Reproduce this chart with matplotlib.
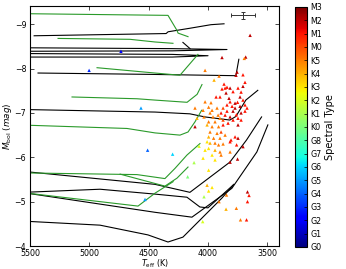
import numpy as np
import matplotlib
matplotlib.use('Agg')
import matplotlib.pyplot as plt

# spectral type labels (colour scale index 0..18)
sp_labels = ['G0', 'G1', 'G2', 'G3', 'G4', 'G5', 'G6', 'G7', 'G8',
             'K0', 'K1', 'K2', 'K3', 'K4', 'K5', 'M0', 'M1', 'M2', 'M3']

# evolutionary tracks (black)
tracks_T = [
    [5466, 4352, 4335, 4150, 3973, 3863],
    [5600, 4300, 3838, 4300, 5600],
    [4210, 4150],
    [5600, 4300, 3998, 4300, 5600],
    [5433, 4500, 3763, 3738],
    [5600, 4446, 4151, 4024, 3814, 3763, 3679, 3578],
    [5550, 4446, 4151, 3814, 3673, 3546],
    [5550, 4910, 4446, 4176, 4067, 3999, 3788],
    [5550, 4446, 4134, 3797, 3586, 3493],
    [5550, 4910, 4505, 4336, 4210, 3881, 3780],
]
tracks_M = [
    [-8.74, -8.79, -8.83, -8.91, -8.99, -9.01],
    [-8.47, -8.45, -8.43, -8.40, -8.39],
    [-8.59, -8.45],
    [-8.34, -8.32, -8.29, -8.26, -8.26],
    [-7.90, -7.87, -7.84, -8.21],
    [-7.08, -7.02, -6.98, -6.91, -6.84, -6.92, -7.29, -7.51],
    [-5.68, -5.39, -5.21, -5.89, -6.39, -6.91],
    [-5.21, -5.28, -5.17, -5.10, -4.88, -4.86, -5.37],
    [-5.20, -4.76, -4.65, -5.30, -6.12, -6.73],
    [-4.56, -4.47, -4.25, -4.09, -4.20, -5.08, -5.39],
]

# isochrones (green)
iso_T = [
    [5600, 4336, 4260, 4251, 4167],
    [5264, 4657, 4446, 4294],
    [4935, 4446, 4235, 4083],
    [5146, 4598, 4446, 4175, 4090, 4049],
    [5600, 4682, 4446, 4235, 4167, 4108, 4052],
    [5600, 4598, 4362, 4277, 4176, 4066],
    [4740, 4362, 4260, 4167],
    [5550, 4589, 4446, 4293],
]
iso_M = [
    [-9.24, -9.20, -8.86, -8.80, -8.72],
    [-8.68, -8.66, -8.60, -8.57],
    [-8.02, -7.90, -7.85, -8.32],
    [-7.36, -7.32, -7.29, -7.24, -7.42, -7.64],
    [-6.73, -6.65, -6.55, -6.50, -6.57, -6.80, -7.06],
    [-5.65, -5.61, -5.52, -5.75, -6.05, -6.31],
    [-5.62, -5.35, -5.53, -5.78],
    [-5.20, -4.90, -5.19, -5.45],
]

# stars: Teff, Mbol, spectral type index
star_T = [4733, 5002, 4564, 4508, 4297, 4530,
          3643, 3880, 3680, 3692, 4023, 3753, 3905, 3947, 3762, 3703, 3686, 3703,
          3863, 3880, 3838, 3812, 3745, 3719, 3787, 3846, 3897, 3821, 3728, 3703,
          4023, 3973, 3812, 3770, 3838, 3871, 3795, 3728, 3669, 3922, 3964, 4108,
          4091, 4032, 3981, 3888, 3838, 3787, 3759, 3719, 3686, 3812, 3787, 3745,
          3897, 3939, 3993, 4006, 3964, 3909, 3871, 3829, 3745, 4108, 3981, 3922,
          3888, 3854, 3770, 3745, 3804, 3993, 3951, 3897, 4006, 3981, 3939, 3909,
          3871, 3812, 3757, 3703, 3993, 3939, 3897, 3812, 4023, 3964, 3888, 3939,
          4040, 3993, 4074, 4116, 4170, 4006, 3964, 3993, 4032, 3905, 3842, 3665,
          3652, 3665, 3846, 3759, 3724, 3673, 4043, 3812, 3749,
          3770, 3749, 3686, 3719, 3854, 3871, 3913, 3956, 4040, 3993, 3854, 3930]
star_M = [-8.39, -7.96, -7.11, -6.16, -6.07, -5.05,
          -8.75, -8.25, -8.26, -8.23, -7.96, -7.92, -7.83, -7.74, -7.85, -7.86, -7.69, -7.60,
          -7.65, -7.54, -7.58, -7.56, -7.56, -7.47, -7.48, -7.45, -7.36, -7.33, -7.36, -7.29,
          -7.25, -7.23, -7.25, -7.22, -7.18, -7.11, -7.15, -7.15, -7.11, -7.11, -7.06, -7.11,
          -6.88, -6.91, -7.00, -7.00, -7.04, -7.04, -6.96, -7.00, -7.04, -6.91, -6.84, -6.88,
          -6.88, -6.80, -6.80, -6.73, -6.69, -6.69, -6.73, -6.77, -6.73, -6.69, -6.57, -6.54,
          -6.57, -6.50, -6.46, -6.43, -6.39, -6.46, -6.43, -6.43, -6.35, -6.32, -6.32, -6.28,
          -6.30, -6.35, -6.28, -6.24, -6.20, -6.16, -6.12, -6.12, -6.16, -6.05, -6.05, -5.94,
          -5.98, -5.71, -6.25, -5.88, -5.56, -5.37, -5.32, -5.24, -5.11, -5.00, -5.15, -5.22,
          -5.14, -5.00, -4.83, -4.85, -4.59, -4.59, -4.55, -5.89, -5.96,
          -7.11, -7.24, -7.18, -6.84, -6.95, -6.84, -6.95, -6.91, -7.06, -7.13, -7.56, -7.36]
star_sp = [2, 3, 5, 4, 6, 5,
           17, 17, 17, 14, 14, 17, 14, 13, 17, 16, 16, 17,
           16, 16, 16, 17, 16, 16, 16, 17, 16, 17, 17, 16,
           14, 14, 16, 17, 16, 15, 16, 17, 16, 14, 14, 14,
           13, 14, 14, 16, 16, 17, 16, 17, 16, 17, 16, 16,
           14, 14, 14, 13, 14, 14, 16, 16, 17, 17, 14, 14,
           15, 14, 16, 17, 16, 13, 14, 14, 12, 13, 14, 14,
           14, 16, 16, 17, 12, 13, 14, 14, 12, 12, 14, 12,
           12, 12, 11, 10, 9, 13, 12, 12, 10, 14, 14, 17,
           16, 16, 13, 14, 14, 16, 11, 17, 17,
           17, 16, 16, 16, 16, 15, 14, 14, 14, 14, 16, 16]

fig = plt.figure(figsize=(3.46, 2.69), dpi=100)
ax = fig.add_axes([0.087, 0.0855, 0.719, 0.892])
cax = fig.add_axes([0.853, 0.082, 0.035, 0.892])

for t, m in zip(tracks_T, tracks_M):
    ax.plot(t, m, color='k', lw=0.8)
for t, m in zip(iso_T, iso_M):
    ax.plot(t, m, color='#2a9a2a', lw=0.8)

sc = ax.scatter(star_T, star_M, c=star_sp, cmap='jet', vmin=0, vmax=18,
                marker='^', s=6, linewidths=0, zorder=3)

# typical error bar
ax.errorbar([3700], [-9.2], xerr=[100], yerr=[0.08], color='#333333',
            lw=0.7, capsize=1.5, capthick=0.7)

ax.set_xlim(5500, 3400)
ax.set_ylim(-4, -9.41)
ax.set_xticks([5500, 5000, 4500, 4000, 3500])
ax.set_yticks([-9, -8, -7, -6, -5, -4])
ax.tick_params(direction='in', top=True, right=True, length=3, width=0.5,
               labelsize=5.7)
ax.tick_params(axis='x', pad=1.8)
ax.tick_params(axis='y', pad=2.8)
for s in ax.spines.values():
    s.set_linewidth(0.8)
ax.set_xlabel(r'$T_{\rm eff}$ (K)', fontsize=5.8, labelpad=0)
ax.set_ylabel(r'$M_{\rm bol}\ (mag)$', fontsize=6.3, labelpad=0.5)

cb = fig.colorbar(sc, cax=cax, ticks=np.arange(len(sp_labels)))
cb.ax.set_yticklabels(sp_labels)
cb.ax.tick_params(direction='in', length=2, width=0.5, labelsize=5.7, pad=2)
cb.outline.set_linewidth(0.8)
cb.set_label('Spectral Type', fontsize=7, labelpad=2)

fig.savefig('out.png', dpi=100)
